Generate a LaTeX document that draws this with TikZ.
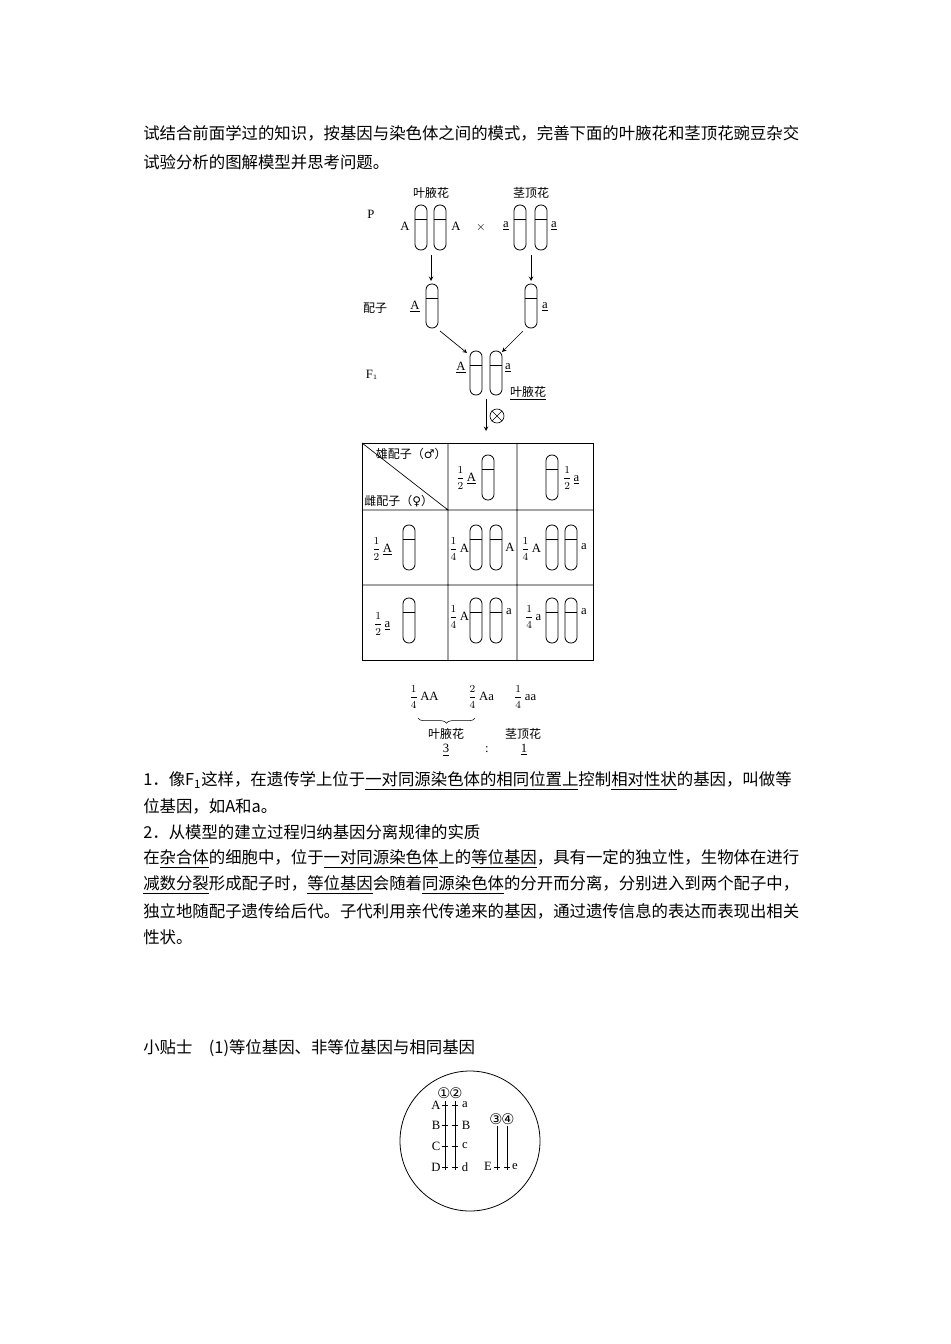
\documentclass[tikz,border=0pt]{standalone}
\usepackage{fontspec}
\setmainfont{Liberation Serif}
\newfontfamily\cjk{Noto Sans CJK SC}
\newfontfamily\sym{DejaVu Sans}
\usetikzlibrary{decorations.pathreplacing}
\newcommand\chr[3]{\draw[chrom] (#1,#2) rectangle ++(12,#3); \draw[chrom] (#1,{#2+0.32*#3}) -- ++(12,0);}
\newcommand\fr[2]{{\fontsize{8}{9}\selectfont$\displaystyle\frac{#1}{#2}$}}
\begin{document}
\begin{tikzpicture}[x=0.75pt,y=-0.75pt,
  chrom/.style={draw=black,line width=0.6pt,rounded corners=4.3pt},
  body/.style={anchor=west,font=\cjk\fontsize{12.3}{14}\selectfont,inner sep=0},
  lab/.style={font=\fontsize{9.5}{10}\selectfont,inner sep=0},
  clab/.style={font=\cjk\fontsize{9}{10}\selectfont,inner sep=0},
  arr/.style={->,>=stealth,line width=0.5pt}]
\useasboundingbox (0,0) rectangle (950,1344);
% intro
\node[body] (t1) at (143,133) {试结合前面学过的知识，按基因与染色体之间的模式，完善下面的叶腋花和茎顶花豌豆杂交};
\node[body] (t2) at (143,162) {试验分析的图解模型并思考问题。};
% P generation
\node[clab] (h1) at (431,193) {叶腋花};
\node[clab] (h2) at (531,193) {茎顶花};
\node[lab] (P) at (371,214) {P};
\chr{415}{205}{45}\chr{434}{205}{45}
\chr{514}{205}{45}\chr{535}{205}{45}
\node[lab] (pA1) at (405,226) {A};
\node[lab] (pA2) at (456,226) {A};
\node[lab] (x) at (481,228) {$\times$};
\node[lab] (pa1) at (506,226) {\underline{a}};
\node[lab] (pa2) at (554,226) {\underline{a}};
\coordinate (l1) at (431,255); \coordinate (l2) at (431,281);
\coordinate (r1) at (531,255); \coordinate (r2) at (531,281);
\draw[arr] (l1) -- (l2); \draw[arr] (r1) -- (r2);
% gametes
\node[clab] (pz) at (375,308) {配子};
\chr{426}{284}{44}\chr{525}{284}{44}
\node[lab] (gA) at (415,307) {\underline{A}};
\node[lab] (ga) at (545,307) {\underline{a}};
\coordinate (l3) at (440,331); \coordinate (l4) at (467,353);
\coordinate (r3) at (523,331); \coordinate (r4) at (502,352);
\draw[arr] (l3) -- (l4); \draw[arr] (r3) -- (r4);
% F1
\node[lab] (F1) at (372,375) {F$_{\scriptscriptstyle 1}$};
\chr{470}{351}{44}\chr{490}{351}{44}
\node[lab] (fA) at (461,368) {\underline{A}};
\node[lab] (fa) at (508,368) {\underline{a}};
\node[clab] (fy) at (528,393) {\underline{叶腋花}};
\coordinate (s1) at (486,399); \coordinate (s2) at (486,431);
\draw[arr] (s1) -- (s2);
\node[draw,circle,minimum size=14*0.75pt,inner sep=0,line width=0.5pt] (ot) at (497,416) {};
\draw[line width=0.5pt] (ot.north west) -- (ot.south east) (ot.north east) -- (ot.south west);
% table
\draw[line width=0.7pt] (362,443) rectangle (593,660);
\draw[line width=0.5pt] (448,443) -- (448,660) (517,443) -- (517,660)
  (362,510) -- (593,510) (362,585) -- (593,585) (362,443) -- (448,510);
\node[clab,anchor=east] (m) at (447,454) {雄配子（{\sym ♂}）};
\node[clab,anchor=west] (f) at (364,501) {雌配子（{\sym ♀}）};
\node[lab] (c12) at (466,478) {\fr12\,\underline{A}};
\chr{482}{455}{45}
\chr{546}{455}{45}
\node[lab] (c13) at (571,478) {\fr12\,\underline{a}};
% row 2
\node[lab] (c21) at (382,549) {\fr12\,\underline{A}};
\chr{403}{525}{45}
\node[lab] (c22) at (459,549) {\fr14\,A};
\chr{470}{525}{45}\chr{490}{525}{45}
\node[lab] (c22b) at (510,547) {A};
\node[lab] (c23) at (531,549) {\fr14\,A};
\chr{546}{525}{45}\chr{565}{525}{45}
\node[lab] (c23b) at (584,547) {a};
% row 3
\node[lab] (c31) at (382,624) {\fr12\,\underline{a}};
\chr{403}{598}{45}
\node[lab] (c32) at (459,617) {\fr14\,A};
\chr{470}{598}{45}\chr{490}{598}{45}
\node[lab] (c32b) at (509,612) {a};
\node[lab] (c33) at (533,617) {\fr14\,a};
\chr{546}{598}{45}\chr{565}{598}{45}
\node[lab] (c33b) at (584,612) {a};
% results
\node[lab] (r1n) at (424,697) {\fr14\,AA};
\node[lab] (r2n) at (481,697) {\fr24\,Aa};
\node[lab] (r3n) at (525,697) {\fr14\,aa};
\draw[decorate,decoration={brace,mirror,amplitude=4pt},line width=0.4pt] (418,718) -- (475,718);
\node[clab] (y1) at (446,734) {叶腋花};
\node[clab] (y2) at (523,734) {茎顶花};
\node[lab] (n3) at (446,750) {\underline{3}};
\node[lab] (col) at (487,750) {:};
\node[lab] (n1) at (524,750) {\underline{1}};
% text
\node[body] (p1) at (143,781) {1．像F\textsubscript{1}这样，在遗传学上位于\underline{一对同源染色体的相同位置上}控制\underline{相对性状}的基因，叫做等};
\node[body] (p2) at (143,806) {位基因，如A和a。};
\node[body] (p3) at (143,832) {2．从模型的建立过程归纳基因分离规律的实质};
\node[body] (p4) at (143,859) {在\underline{杂合体}的细胞中，位于\underline{一对同源染色体}上的\underline{等位基因}，具有一定的独立性，生物体在进行};
\node[body] (p5) at (143,885) {\underline{减数分裂}形成配子时，\underline{等位基因}会随着\underline{同源染色体}的分开而分离，分别进入到两个配子中，};
\node[body] (p6) at (143,911) {独立地随配子遗传给后代。子代利用亲代传递来的基因，通过遗传信息的表达而表现出相关};
\node[body] (p7) at (143,937) {性状。};
\node[body] (tip) at (143,1048) {小贴士\quad (1)等位基因、非等位基因与相同基因};
% circle
\node[draw,circle,minimum size=140*0.75pt,line width=0.6pt] (cell) at (470,1141) {};
\coordinate (L1t) at (445,1101); \coordinate (L1b) at (445,1170);
\coordinate (L2t) at (455,1101); \coordinate (L2b) at (455,1170);
\coordinate (L3t) at (497,1126); \coordinate (L3b) at (497,1170);
\coordinate (L4t) at (507,1126); \coordinate (L4b) at (507,1170);
\draw[line width=0.6pt] (L1t) -- (L1b) (L2t) -- (L2b) (L3t) -- (L3b) (L4t) -- (L4b);
\foreach \yy in {1105,1125,1146,1167} {\draw[line width=0.4pt] (442,\yy) -- (448,\yy) (452,\yy) -- (458,\yy);}
\draw[line width=0.4pt] (494,1167) -- (500,1167) (504,1167) -- (510,1167);
\node[lab] (c1) at (444,1093) {{\sym\fontsize{11}{12}\selectfont ①}};
\node[lab] (c2) at (456,1093) {{\sym\fontsize{11}{12}\selectfont ②}};
\node[lab] (c3) at (496,1119) {{\sym\fontsize{11}{12}\selectfont ③}};
\node[lab] (c4) at (508,1119) {{\sym\fontsize{11}{12}\selectfont ④}};
\node[lab] (gA1) at (436,1105) {A}; \node[lab] (ga1) at (465,1105) {a};
\node[lab] (gB1) at (436,1125) {B}; \node[lab] (gB2) at (466,1125) {B};
\node[lab] (gC1) at (436,1146) {C}; \node[lab] (gc1) at (465,1146) {c};
\node[lab] (gD1) at (436,1167) {D}; \node[lab] (gd1) at (465,1167) {d};
\node[lab] (gE1) at (488,1166) {E}; \node[lab] (ge1) at (515,1167) {e};
\end{tikzpicture}
\end{document}
